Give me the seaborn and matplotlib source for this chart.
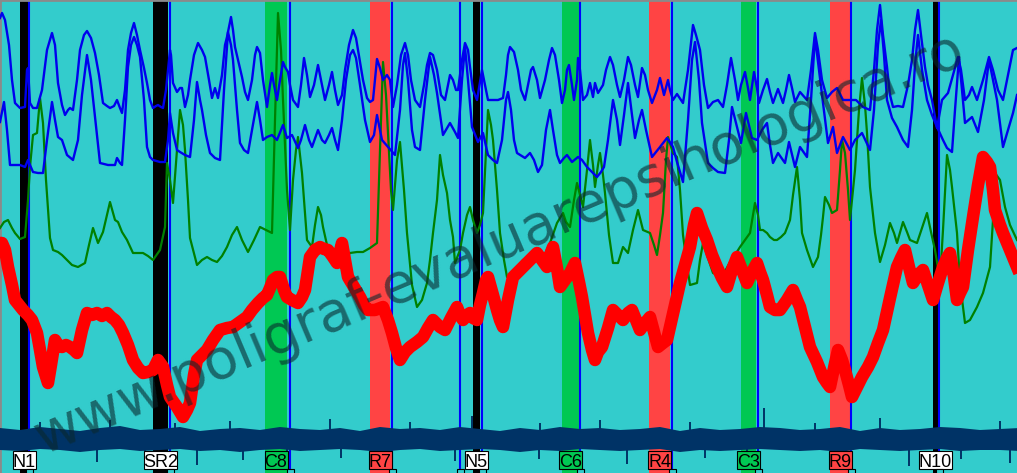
import matplotlib
matplotlib.use("Agg")
import matplotlib.pyplot as plt
from matplotlib.patches import Rectangle
from matplotlib import font_manager
import seaborn as sns
import pandas as pd

# ---------------- data (sample index, deflection in screen units; larger = lower) ----------------
pneumo_upper_x = [0,2,5,9,12,15,20,25,27,28,30,33,37,42,47,52,55,58,62,65,68,70,73,77,80,84,87,91,95,99,103,107,110,114,117,120,122,125,128,131,134,137,140,144,147,150,153,156,158,161,163,166,170,171,173,177,180,182,185,188,190,194,198,202,205,209,212,215,218,222,225,227,231,233,235,238,242,245,248,252,255,257,260,263,267,270,272,274,277,280,283,285,288,290,293,298,301,304,307,310,314,318,321,325,329,332,335,338,342,345,349,353,356,358,363,367,370,373,375,377,380,383,387,390,393,397,401,405,408,411,415,420,424,427,430,433,437,441,445,450,453,456,458,462,465,468,470,473,477,482,485,488,493,498,503,506,508,510,514,518,521,525,528,531,533,537,540,545,549,552,555,559,562,565,567,569,572,574,577,578,580,583,587,590,593,595,598,603,606,610,613,617,620,624,628,631,635,638,642,645,648,652,657,660,664,668,670,673,677,683,688,693,696,700,704,708,713,718,723,727,731,735,738,741,745,748,750,754,757,759,763,767,770,773,778,783,786,789,792,795,800,807,811,815,818,822,827,832,837,843,850,856,863,870,874,877,880,883,887,890,893,898,903,908,912,915,918,921,925,928,932,937,942,948,953,958,961,965,969,972,977,983,989,993,998,1003,1008,1013,1017]
pneumo_upper_y = [18,13,20,45,80,103,108,107,70,68,103,108,108,90,50,33,45,83,105,115,110,108,110,80,50,35,31,38,53,75,103,106,108,106,100,108,113,90,50,33,23,35,50,68,83,100,108,106,105,107,108,90,50,55,83,92,88,88,107,95,80,55,43,50,57,80,98,88,98,75,45,37,17,30,47,60,77,92,100,80,55,47,53,80,107,85,73,85,100,80,62,67,72,85,100,107,85,58,75,97,85,65,80,100,85,72,90,105,95,70,45,30,38,50,80,98,102,100,80,59,68,80,75,80,107,85,55,43,55,80,100,107,85,65,53,55,70,95,100,75,80,90,90,60,43,50,67,90,100,70,85,100,100,100,98,75,55,47,52,70,90,100,85,70,67,80,98,80,60,48,55,80,103,90,70,65,85,100,80,58,70,100,95,83,97,83,93,85,70,57,65,85,97,80,57,65,85,97,68,75,90,103,90,78,95,80,90,100,94,103,70,25,35,50,85,108,102,100,107,85,58,80,100,85,72,88,100,72,88,103,90,79,92,103,89,103,90,75,88,102,92,100,70,33,50,80,98,92,88,100,100,100,107,110,70,30,5,35,67,95,107,106,107,85,60,30,10,35,67,85,100,128,100,93,75,57,70,100,95,87,100,80,57,70,90,100,75,50,48]

pneumo_lower_x = [0,4,7,10,15,20,25,28,30,33,38,43,47,52,55,58,62,67,73,78,82,87,91,95,98,100,108,115,117,120,122,125,128,131,134,137,140,144,147,150,153,160,165,168,170,173,177,180,185,190,194,197,200,202,206,210,215,220,224,228,231,233,237,240,244,248,252,257,260,263,267,272,277,283,287,292,298,301,305,309,312,318,322,325,329,332,335,338,342,346,350,353,356,360,365,370,374,377,380,382,388,395,400,403,405,408,412,415,420,425,430,434,437,443,450,455,458,462,465,468,472,478,483,488,493,497,502,506,508,511,514,517,525,530,534,538,542,546,550,553,557,560,564,567,572,578,582,587,592,597,601,604,608,613,617,620,624,628,632,635,639,642,646,652,656,660,667,673,677,683,688,692,695,699,702,708,713,718,725,729,732,737,741,746,752,757,762,767,770,773,778,785,789,795,800,807,811,815,819,823,828,833,837,843,850,855,862,870,874,878,881,884,887,892,897,903,908,912,915,918,922,927,932,937,943,947,952,955,959,962,965,972,978,984,989,993,997,1003,1008,1013,1017]
pneumo_lower_y = [122,102,130,165,165,165,167,160,165,172,173,173,140,102,120,137,140,155,160,140,95,55,80,117,145,163,165,165,158,163,165,120,67,45,37,45,57,100,147,157,160,162,162,140,113,133,150,152,155,157,120,82,100,110,135,153,158,160,90,32,45,60,110,143,150,153,130,102,120,140,137,135,140,125,138,135,148,140,125,140,147,130,140,143,135,128,140,150,120,80,55,50,58,85,120,142,135,115,130,140,147,155,110,65,53,80,130,147,150,100,57,75,93,135,123,132,138,80,47,80,127,142,133,155,160,163,140,100,92,110,140,153,158,153,160,172,165,130,110,130,155,163,158,155,162,157,160,167,172,177,172,167,140,100,120,145,115,83,115,138,120,110,130,157,152,147,138,147,162,182,120,60,42,80,123,163,168,172,173,140,107,127,143,113,138,140,130,123,145,163,153,163,142,167,147,157,100,37,70,103,143,127,153,137,150,140,133,150,110,45,20,55,100,118,127,140,147,110,65,35,70,100,115,127,140,148,152,110,57,90,123,117,132,100,60,80,100,147,130,113,95]

eda_x = [0,4,8,12,15,20,25,28,30,33,37,40,43,46,50,53,58,62,67,72,78,85,89,93,98,103,107,110,115,118,122,127,133,143,148,153,160,165,167,170,173,177,180,183,185,188,190,197,202,207,212,217,222,227,232,237,242,248,254,260,266,272,275,278,281,283,287,290,293,296,298,302,307,312,315,318,321,323,327,333,338,343,350,357,363,370,377,380,383,386,388,391,393,397,400,404,407,412,417,422,427,430,433,437,440,443,447,450,453,455,460,463,467,470,473,477,480,483,486,488,491,493,497,500,504,507,512,517,523,530,540,546,550,557,563,566,570,574,577,580,583,587,590,593,595,598,600,603,605,609,613,618,623,628,633,638,643,650,654,657,660,663,666,668,673,677,680,683,687,690,697,700,703,708,713,718,723,730,735,740,745,750,753,755,758,760,763,767,770,774,777,781,785,790,793,797,800,802,807,813,818,821,823,825,829,832,837,840,842,845,848,850,855,859,862,865,867,870,875,880,885,890,894,897,903,907,910,917,922,927,931,935,940,943,947,950,952,957,960,965,970,977,983,990,993,995,1000,1005,1010,1017]
eda_y = [228,222,220,228,233,239,237,200,167,135,133,98,123,180,238,250,252,255,260,265,267,263,245,228,243,232,215,202,220,222,232,240,253,253,256,260,250,227,163,180,203,150,110,125,150,200,238,265,260,257,260,262,256,247,235,227,240,252,240,227,230,233,120,13,50,100,190,230,180,150,137,173,240,247,225,207,215,227,245,258,262,260,253,252,252,248,243,150,62,95,133,190,210,160,142,190,233,285,307,300,283,260,233,200,155,175,193,220,237,263,250,233,215,207,220,233,225,213,150,110,125,140,190,233,260,277,280,267,260,257,260,252,243,223,213,222,227,200,183,195,207,170,140,165,187,165,153,175,193,235,263,263,247,253,230,210,230,233,245,255,235,213,160,137,153,157,190,235,265,285,283,260,243,258,273,275,275,262,255,247,240,233,215,203,215,230,230,233,237,240,240,237,233,220,195,167,200,233,250,267,257,235,217,197,205,213,210,170,140,153,190,220,170,110,78,105,133,187,233,262,245,223,233,243,222,232,240,243,228,213,232,250,280,230,155,170,187,233,283,323,320,307,293,267,220,173,180,207,225,240]

cardio_x = [0,2,5,8,12,15,19,23,28,32,37,40,43,48,51,55,58,62,66,70,74,77,82,87,92,97,102,107,111,115,119,123,128,133,138,143,148,153,158,163,167,170,177,180,183,187,190,194,197,202,207,213,220,227,233,240,247,252,258,263,267,270,273,277,280,284,287,292,298,302,305,308,310,315,320,324,328,333,337,342,345,348,354,360,364,368,375,383,388,392,396,400,405,410,417,423,428,433,440,445,451,457,460,463,467,470,473,477,480,483,486,488,493,497,500,503,508,513,520,527,532,537,542,547,550,553,557,560,565,570,575,579,582,585,588,592,595,598,602,608,613,618,623,628,632,636,640,645,650,654,658,663,667,670,675,680,685,690,694,697,702,707,712,717,722,727,732,737,742,747,752,757,760,763,767,770,775,780,787,793,797,800,805,810,817,823,827,830,834,838,842,845,849,852,857,862,868,873,878,883,890,897,901,905,909,913,918,923,928,933,938,943,947,950,954,957,960,963,968,973,978,983,987,990,993,995,1000,1003,1010,1017]
cardio_y = [243,243,250,267,285,300,305,310,315,320,333,350,367,383,365,340,345,347,345,347,350,353,330,313,315,313,316,313,317,320,325,333,345,360,368,373,372,370,360,367,385,397,407,412,417,410,403,375,360,355,350,340,330,328,327,322,317,310,303,298,295,288,280,277,277,290,297,300,303,297,290,270,257,250,247,249,250,257,263,243,260,277,287,297,305,310,310,307,320,333,348,360,352,347,342,337,328,320,327,330,318,307,315,320,315,313,318,320,305,293,280,277,295,310,320,327,300,277,270,263,258,253,260,267,255,247,268,287,280,273,263,282,297,315,333,350,360,352,347,328,310,315,320,313,310,320,330,323,317,332,347,343,340,327,305,283,265,247,225,213,228,240,255,267,278,287,270,257,270,283,272,263,272,280,295,307,310,310,300,290,300,307,327,347,362,377,383,387,368,350,360,370,385,397,387,377,367,357,343,330,298,267,258,250,267,283,275,270,285,300,283,267,258,253,277,300,293,287,250,217,185,157,162,167,190,210,225,233,250,267]

gsr_x = list(range(0, 1021, 20))
gsr_top = [428,430,427,429,431,428,426,430,429,427,431,429,428,430,427,429,430,428,431,427,429,428,430,427,429,431,428,430,427,429,428,430,429,427,431,428,430,429,427,428,430,429,427,431,428,430,429,427,428,430,429,428]
gsr_bottom = [450,451,449,450,452,450,449,451,450,449,451,450,452,450,449,451,450,449,450,452,450,449,451,450,449,450,452,450,451,449,450,451,450,449,452,450,451,450,449,450,451,450,452,449,450,451,450,449,451,450,450,451]
spike_x = [97, 145, 197, 243, 287, 341, 386, 455, 539, 627, 705, 747, 838, 909, 961, 1010]
spike_depth = [462, 458, 465, 460, 463, 458, 466, 461, 459, 464, 458, 470, 461, 466, 459, 463]
upspike_x = [40, 110, 175, 230, 330, 410, 472, 540, 600, 690, 764, 815, 880, 1000]
upspike_top = [422, 420, 423, 421, 419, 422, 416, 423, 420, 422, 408, 423, 418, 421]

question_labels = ["N1", "SR2", "C8", "R7", "N5", "C6", "R4", "C3", "R9", "N10"]
question_kind = ["N", "N", "C", "R", "N", "C", "R", "C", "R", "N"]
question_start = [20, 153, 265, 370, 473, 562, 649, 741, 830, 933]
question_end = [28, 168, 287, 390, 480, 579, 670, 756, 850, 938]
answer_marks = [29, 170, 290, 392, 460, 482, 580, 672, 758, 851, 939]

watermark = "www.poligraf-evaluarepsihologica.ro"

# ---------------- styling ----------------
BG = "#33CCCC"
band_colors = {"N": "#000000", "C": "#00C853", "R": "#FF4444"}
label_colors = {"N": "#FFFFFF", "C": "#00C853", "R": "#FF4444"}

installed = {f.name for f in font_manager.fontManager.ttflist}
if "Liberation Sans Narrow" in installed:
    label_family, label_size = "Liberation Sans Narrow", 15
else:
    label_family, label_size = "Liberation Sans", 13

W, H = 1017, 473
fig = plt.figure(figsize=(W / 100, H / 100), dpi=100)
ax = fig.add_axes([0, 0, 1, 1])
ax.set_facecolor(BG)
fig.patch.set_facecolor(BG)
ax.set_xlim(0, W)
ax.set_ylim(H, 0)
ax.set_xticks([])
ax.set_yticks([])
for s in ax.spines.values():
    s.set_visible(False)
ax.spines["top"].set_visible(True)
ax.spines["left"].set_visible(True)
ax.spines["top"].set_color("#8a8a8a")
ax.spines["left"].set_color("#8a8a8a")
ax.spines["top"].set_linewidth(2)
ax.spines["left"].set_linewidth(2)

# question bands
for s0, s1, k in zip(question_start, question_end, question_kind):
    ax.axvspan(s0, s1, color=band_colors[k], lw=0, zorder=1)
for m in answer_marks:
    ax.axvline(m, color="#0000FF", lw=1.5, zorder=2)

# traces
df_u = pd.DataFrame({"t": pneumo_upper_x, "v": pneumo_upper_y})
df_l = pd.DataFrame({"t": pneumo_lower_x, "v": pneumo_lower_y})
df_e = pd.DataFrame({"t": eda_x, "v": eda_y})
df_c = pd.DataFrame({"t": cardio_x, "v": cardio_y})
sns.lineplot(data=df_e, x="t", y="v", ax=ax, color="#008000", lw=1.6, sort=False, estimator=None, zorder=3)
sns.lineplot(data=df_l, x="t", y="v", ax=ax, color="#0000EE", lw=1.7, sort=False, estimator=None, zorder=4)
sns.lineplot(data=df_u, x="t", y="v", ax=ax, color="#0000EE", lw=1.7, sort=False, estimator=None, zorder=4)
sns.lineplot(data=df_c, x="t", y="v", ax=ax, color="#FF0000", lw=9, sort=False, estimator=None, zorder=5)

# GSR / activity band
ax.fill_between(gsr_x, gsr_top, gsr_bottom, color="#003366", lw=0, zorder=6)
ax.vlines(spike_x, 448, spike_depth, color="#003366", lw=1.4, zorder=6)
ax.vlines(upspike_x, upspike_top, 432, color="#003366", lw=1.4, zorder=6)

# question labels
for lab, k, s0, s1 in zip(question_labels, question_kind, question_start, question_end):
    c = (s0 + s1) / 2
    w = 23 if len(lab) == 2 else 33
    ax.add_patch(Rectangle((c - w / 2, 451), w, 18, facecolor=label_colors[k],
                           edgecolor="black", lw=0.8, zorder=7))
    ax.text(c, 467, lab, ha="center", va="baseline", fontsize=label_size,
            family=label_family, color="black", zorder=8)
for m in answer_marks:
    ax.add_patch(Rectangle((m - 3, 469), 7, 6, facecolor=BG, edgecolor="black", lw=0.8, zorder=7))

# watermark
ax.text(500, 244, watermark, rotation=23, rotation_mode="anchor", ha="center", va="center",
        fontsize=40, family="DejaVu Sans", color="#0a282d", alpha=0.6, zorder=9)

fig.savefig("out.png", dpi=100, facecolor=BG)
